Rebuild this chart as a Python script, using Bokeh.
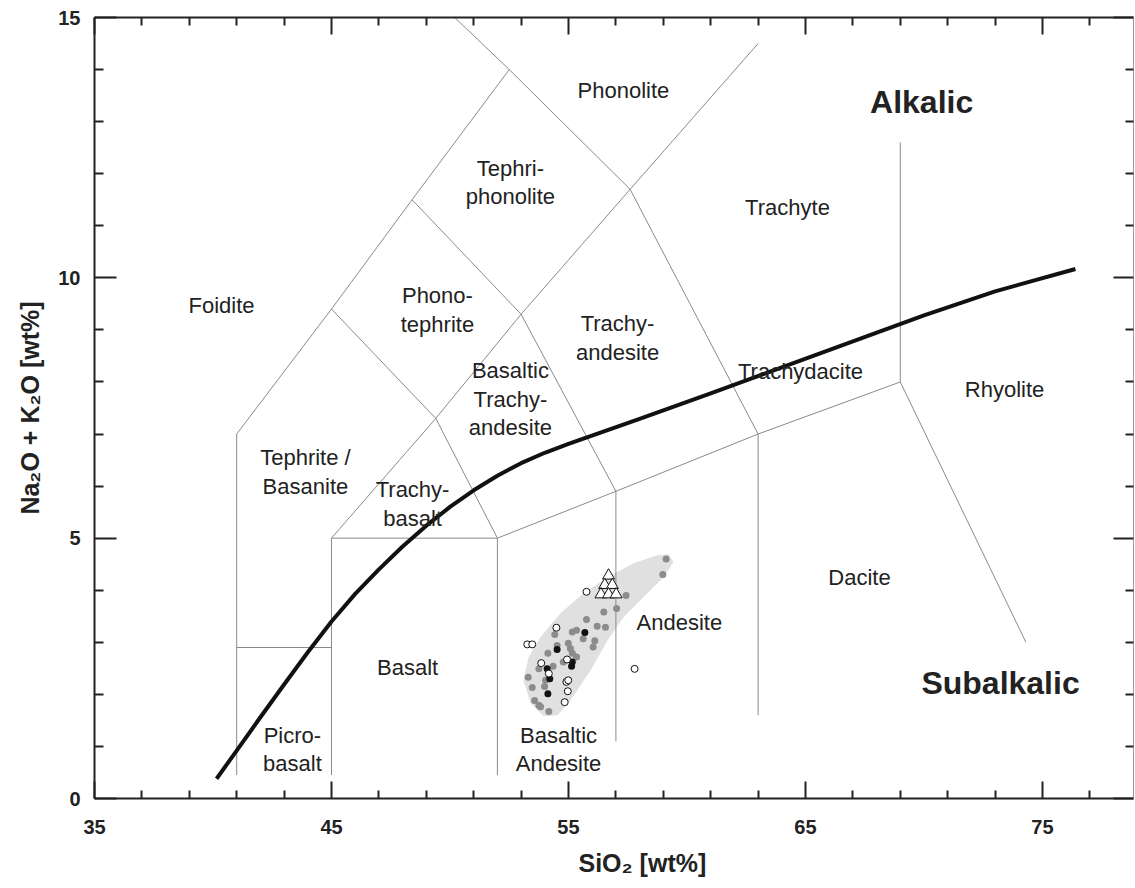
from bokeh.plotting import figure
from bokeh.models import Range1d, LinearAxis, FixedTicker, CustomJSTickFormatter, ColumnDataSource, Title
from bokeh.core.properties import value
from bokeh.embed import file_html
from bokeh.resources import INLINE

# ---------------- data ----------------
x_major = [35, 45, 55, 65, 75]
x_minor = [37, 39, 41, 43, 47, 49, 51, 53, 57, 59, 61, 63, 67, 69, 71, 73, 77]
y_major = [0, 5, 10, 15]
y_minor = [1, 2, 3, 4, 6, 7, 8, 9, 11, 12, 13, 14]

# TAS field boundaries (SiO2, Na2O+K2O)
field_xs = [
    [41, 41], [41, 45], [45, 45], [52, 52], [57, 57], [63, 63],
    [45, 52], [52, 57, 63, 69], [69, 69], [69, 74.3],
    [41, 45, 48.4, 52.5], [52.5, 50.2], [45, 49.4, 52], [45, 49.4],
    [49.4, 53, 57], [48.4, 53, 57.6, 63], [52.5, 57.6, 63.0],
]
field_ys = [
    [0.45, 7], [2.9, 2.9], [0.45, 5], [0.45, 5], [1.1, 5.9], [1.6, 7],
    [5, 5], [5, 5.9, 7, 8], [8, 12.6], [8, 3.0],
    [7, 9.4, 11.5, 14], [14, 15], [5, 7.3, 5], [9.4, 7.3],
    [7.3, 9.3, 5.9], [11.5, 9.3, 11.7, 7], [14, 11.7, 14.5],
]

# alkalic / subalkalic dividing curve
curve_x = [40.15, 41, 42, 43, 44, 45, 46, 47, 48, 49, 50, 51, 52, 53, 54, 55,
           58, 61, 64, 67, 70, 73, 76.39]
curve_y = [0.38, 0.92, 1.56, 2.19, 2.81, 3.40, 3.93, 4.40, 4.84, 5.24, 5.60, 5.92,
           6.20, 6.44, 6.64, 6.81, 7.29, 7.78, 8.28, 8.78, 9.28, 9.74, 10.17]

# shaded field of samples
blob_x = [53.10, 53.40, 53.95, 54.54, 55.08, 55.93, 56.65, 57.32, 58.33, 59.01,
          59.43, 59.22, 58.76, 57.74, 56.65, 55.63, 54.66, 53.82, 53.31]
blob_y = [2.27, 1.83, 1.58, 1.60, 1.88, 2.46, 3.04, 3.48, 3.94, 4.25,
          4.54, 4.69, 4.67, 4.52, 4.25, 3.94, 3.56, 3.10, 2.71]

gray_x = [59.12, 58.98, 57.43, 57.03, 56.49, 55.76, 56.21, 56.56, 55.34, 55.16,
          55.62, 56.11, 56.04, 54.42, 54.52, 54.99, 55.08, 55.16, 55.34, 54.78,
          54.13, 54.35, 53.75, 53.30, 53.47, 54.03, 53.99, 53.57, 53.75, 53.82, 54.17]
gray_y = [4.60, 4.30, 3.90, 3.65, 3.58, 3.44, 3.31, 3.29, 3.23, 3.20,
          3.07, 3.03, 2.91, 3.15, 2.94, 2.98, 2.88, 2.79, 2.72, 2.62,
          2.79, 2.54, 2.49, 2.33, 2.13, 2.27, 2.15, 1.88, 1.79, 1.76, 1.67]

black_x = [55.69, 54.52, 55.16, 55.13, 54.10, 54.21, 54.13]
black_y = [3.19, 2.86, 2.62, 2.54, 2.49, 2.30, 2.01]

open_x = [55.76, 54.49, 53.26, 53.47, 54.94, 53.85, 54.17, 54.91, 54.99, 54.97, 54.84, 57.79]
open_y = [3.97, 3.28, 2.96, 2.96, 2.67, 2.60, 2.40, 2.24, 2.27, 2.06, 1.85, 2.49]

tri_x = [56.69, 56.53, 56.85, 56.37, 56.69, 57.01]
tri_y = [4.28, 4.10, 4.10, 3.92, 3.92, 3.92]

field_names = ["Phonolite", "Tephri-\nphonolite", "Trachyte", "Foidite", "Phono-\ntephrite",
               "Trachy-\nandesite", "Trachydacite", "Rhyolite", "Basaltic\nTrachy-\nandesite",
               "Tephrite /\nBasanite", "Trachy-\nbasalt", "Dacite", "Andesite", "Basalt",
               "Picro-\nbasalt", "Basaltic\nAndesite"]
name_x = [57.32, 52.55, 64.24, 40.36, 49.47, 57.07, 64.79, 73.40, 52.55, 43.90, 48.42,
          67.28, 59.68, 48.21, 43.35, 54.58]
name_y = [13.60, 11.83, 11.35, 9.46, 9.38, 8.85, 8.21, 7.85, 7.67, 6.27, 5.65,
          4.25, 3.38, 2.52, 0.94, 0.94]

series_names = ["Alkalic", "Subalkalic"]
series_x = [69.9, 73.23]
series_y = [13.37, 2.21]

x_title = "SiO₂ [wt%]"
y_title = "Na₂O + K₂O [wt%]"

# ---------------- figure ----------------
FONT = "Liberation Sans"
INK = "#222222"

p = figure(width=1135, height=888, x_range=Range1d(35, 78.84), y_range=Range1d(0, 15),
           output_backend="svg", toolbar_location=None,
           min_border_left=94, min_border_right=2, min_border_top=17, min_border_bottom=90)
p.grid.visible = False
p.outline_line_color = None

xa = p.below[0]
ya = p.left[0]
xa.ticker = FixedTicker(ticks=x_major, minor_ticks=x_minor)
ya.ticker = FixedTicker(ticks=y_major, minor_ticks=y_minor)
for ax in (xa, ya):
    ax.axis_line_color = INK
    ax.axis_line_width = 2
    ax.major_tick_line_color = INK
    ax.minor_tick_line_color = INK
    ax.major_tick_line_width = 2
    ax.minor_tick_line_width = 2
    ax.major_tick_out = 0
    ax.minor_tick_out = 0
    ax.major_label_text_font = FONT
    ax.major_label_text_font_style = "bold"
    ax.major_label_text_font_size = "20px"
    ax.major_label_text_color = INK
    ax.axis_label_text_font = FONT
    ax.axis_label_text_font_style = "bold"
    ax.axis_label_text_font_size = "25px"
    ax.axis_label_text_color = INK
xa.major_tick_in = 17
xa.minor_tick_in = 8
ya.major_tick_in = 22
ya.minor_tick_in = 9
xa.major_label_standoff = 21
ya.major_label_standoff = 14
ya.axis_label = y_title
ya.axis_label_standoff = 11

empty = CustomJSTickFormatter(code="return ''")
top = LinearAxis(ticker=FixedTicker(ticks=x_major, minor_ticks=x_minor), formatter=empty,
                 major_label_text_font_size="0px", major_label_standoff=0,
                 axis_line_color=INK, axis_line_width=2,
                 major_tick_line_color=INK, minor_tick_line_color=INK,
                 major_tick_line_width=2, minor_tick_line_width=2,
                 major_tick_in=17, minor_tick_in=8, major_tick_out=0, minor_tick_out=0)
p.add_layout(top, "above")
right = LinearAxis(ticker=FixedTicker(ticks=y_major, minor_ticks=y_minor), formatter=empty,
                   major_label_text_font_size="0px", major_label_standoff=0,
                   axis_line_color="#9a9a9a", axis_line_width=1,
                   major_tick_line_color=INK, minor_tick_line_color=INK,
                   major_tick_line_width=2, minor_tick_line_width=2,
                   major_tick_in=20, minor_tick_in=8, major_tick_out=0, minor_tick_out=0)
p.add_layout(right, "right")

# x axis title, slightly right of centre as in the original
p.add_layout(Title(text=x_title, align="left", offset=484, standoff=21,
                   text_font=FONT, text_font_size="25px", text_font_style="bold",
                   text_color=INK), "below")

# shaded field
p.patch(blob_x, blob_y, fill_color="#e0e0e0", line_color=None)

# field boundaries
p.multi_line(field_xs, field_ys, line_color="#8a8a8a", line_width=1)

# dividing curve
p.line(curve_x, curve_y, line_color="#111111", line_width=4, line_join="round")

# samples
p.scatter(gray_x, gray_y, marker="circle", size=7, fill_color="#8c8c8c", line_color=None)
p.scatter(black_x, black_y, marker="circle", size=7, fill_color="#111111", line_color=None)
p.scatter(open_x, open_y, marker="circle", size=7, fill_color="white", line_color="#111111", line_width=1)
p.scatter(tri_x, tri_y, marker="triangle", size=12, fill_color="white", line_color="#111111", line_width=1)

# field names
src = ColumnDataSource(dict(x=name_x, y=name_y, t=field_names))
p.text(x="x", y="y", text="t", source=src, text_font=value(FONT), text_font_size="22px",
       text_color=INK, text_align="center", text_baseline="middle", text_line_height=1.15)

ssrc = ColumnDataSource(dict(x=series_x, y=series_y, t=series_names))
p.text(x="x", y="y", text="t", source=ssrc, text_font=value(FONT), text_font_size="32px",
       text_font_style="bold", text_color=INK, text_align="center", text_baseline="middle")

open("out.html", "w").write(file_html(p, INLINE))
